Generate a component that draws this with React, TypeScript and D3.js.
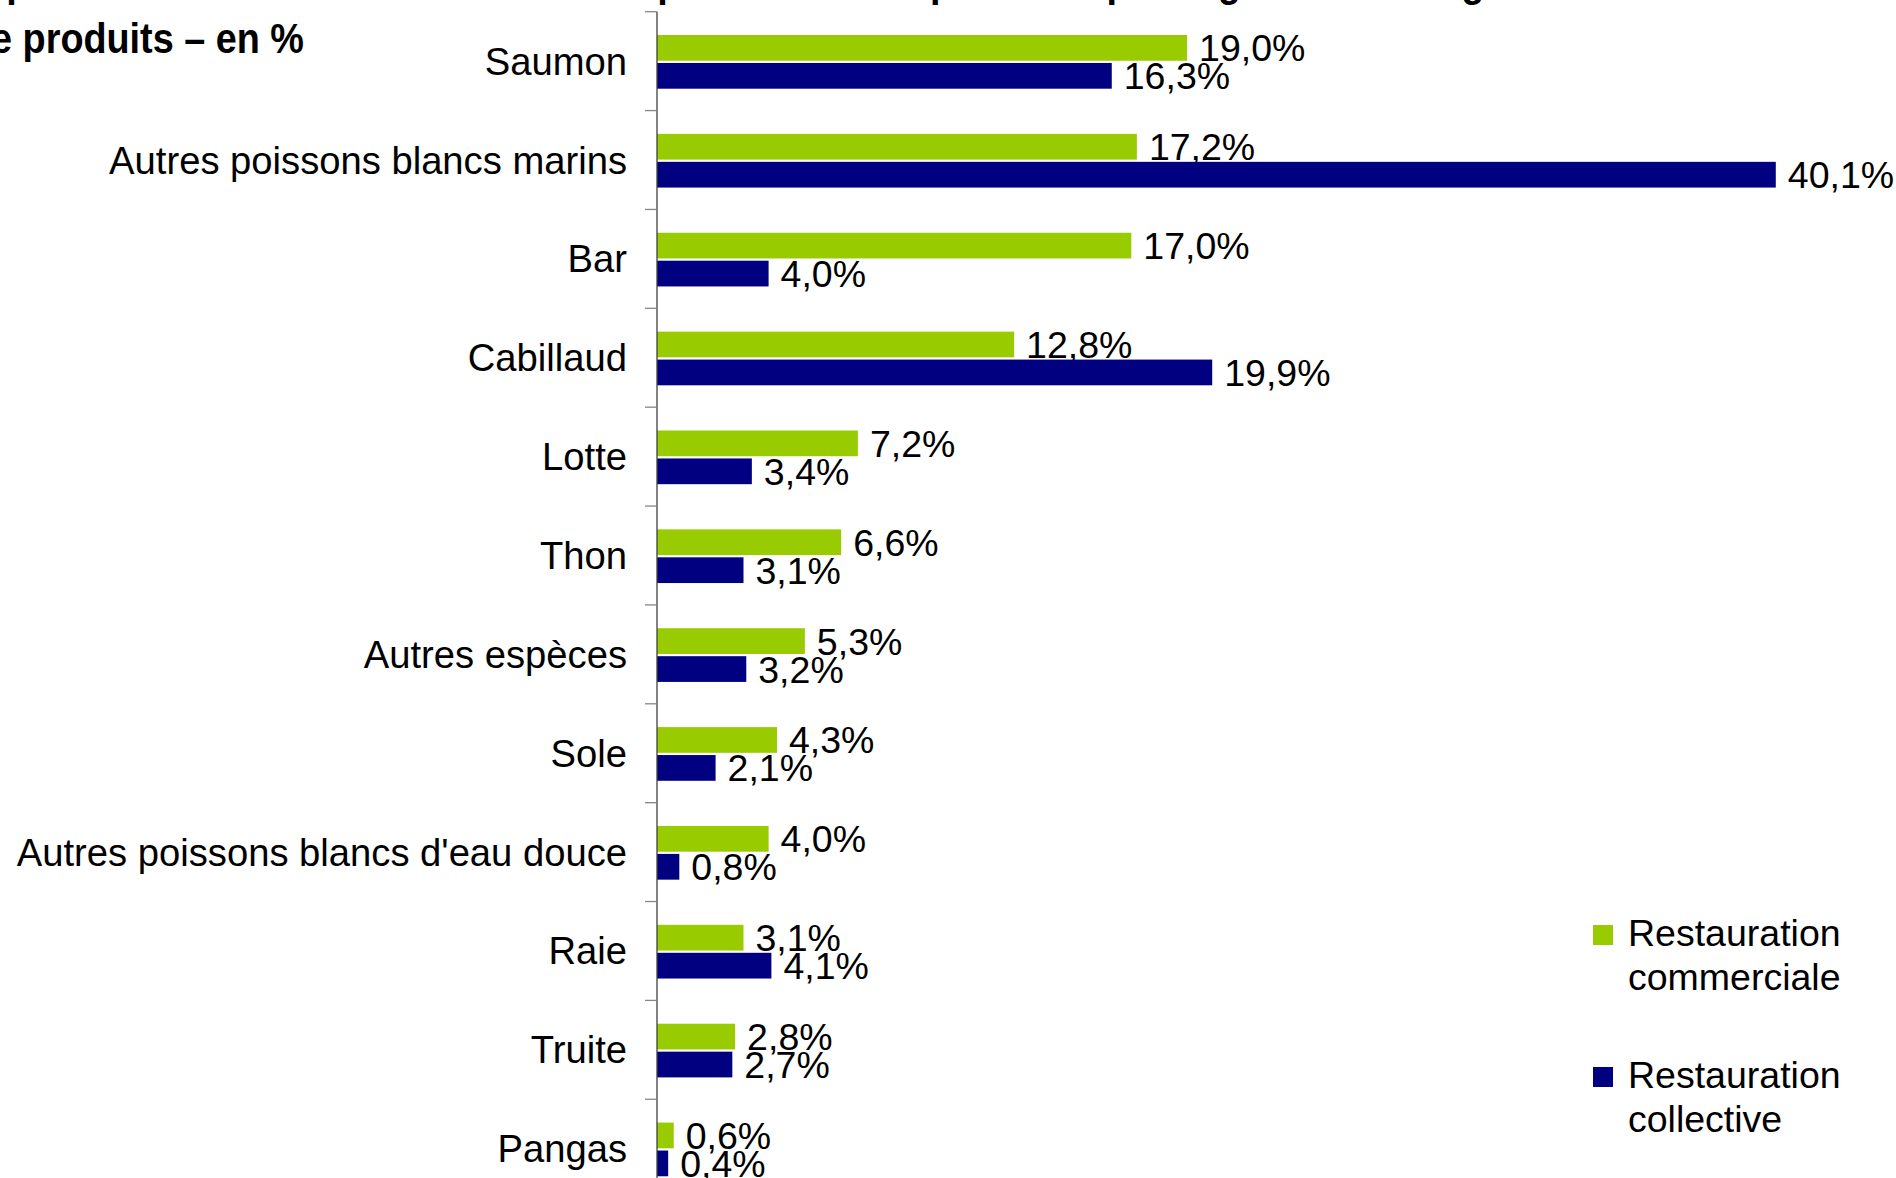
import React from "react";
import * as d3 from "d3";

const categories: string[] = [
  "Saumon",
  "Autres poissons blancs marins",
  "Bar",
  "Cabillaud",
  "Lotte",
  "Thon",
  "Autres espèces",
  "Sole",
  "Autres poissons blancs d'eau douce",
  "Raie",
  "Truite",
  "Pangas",
];
const commerciale: number[] = [19.0, 17.2, 17.0, 12.8, 7.2, 6.6, 5.3, 4.3, 4.0, 3.1, 2.8, 0.6];
const collective: number[] = [16.3, 40.1, 4.0, 19.9, 3.4, 3.1, 3.2, 2.1, 0.8, 4.1, 2.7, 0.4];
const seriesNames: string[] = ["Restauration commerciale", "Restauration collective"];
const seriesColors: string[] = ["#99CC00", "#000080"];
const legendLines: string[][] = [
  ["Restauration", "commerciale"],
  ["Restauration", "collective"],
];
const titleLines: string[] = [
  "Répartition des achats en restauration par nombre de poissons par segment et catégorie",
  "de produits – en %",
];

const W = 1896;
const H = 1178;
const FONT = "'Liberation Sans', Arial, sans-serif";

export default function App() {
  const axisX = 657;
  const y = d3
    .scaleBand<string>()
    .domain(categories)
    .range([11.7, 11.7 + 12 * 98.87])
    .padding(0);
  const inner = d3
    .scaleBand<string>()
    .domain(seriesNames)
    .range([23.3, 77])
    .paddingInner(0.08);
  const x = d3.scaleLinear().domain([0, 40]).range([axisX, axisX + 40 * 27.9]);
  const fmt = (v: number) => v.toFixed(1).replace(".", ",") + "%";
  const data = [commerciale, collective];
  const tickYs = [...categories.map((c) => y(c) as number), (y.range()[1] as number)];

  return (
    <svg
      width={W}
      height={H}
      viewBox={`0 0 ${W} ${H}`}
      style={{ position: "absolute", left: 0, top: 0, overflow: "hidden", background: "#fff" }}
    >
      <rect x={0} y={0} width={W} height={H} fill="#fff" />
      {/* title (cut off) */}
      <g transform="scale(0.9,1)" fontFamily={FONT} fontWeight="bold" fontSize={42} fill="#000">
        <text x={-42 / 0.9} y={-4}>{titleLines[0]}</text>
        <text x={-32 / 0.9} y={53}>{titleLines[1]}</text>
      </g>

      {/* bars */}
      {data.map((vals, si) =>
        categories.map((c, i) => {
          const by = (y(c) as number) + (inner(seriesNames[si]) as number);
          const bh = inner.bandwidth();
          return (
            <g key={`${si}-${i}`}>
              <rect x={x(0)} y={by} width={x(vals[i]) - x(0)} height={bh} fill={seriesColors[si]} />
              <text
                x={x(vals[i]) + 12}
                y={by + bh / 2}
                dy="0.36em"
                fontFamily={FONT}
                fontSize={37.5}
                fill="#000"
              >
                {fmt(vals[i])}
              </text>
            </g>
          );
        })
      )}

      {/* axis */}
      <line x1={axisX} x2={axisX} y1={tickYs[0]} y2={tickYs[tickYs.length - 1]} stroke="#404040" strokeWidth={1.3} />
      {tickYs.map((t, i) => (
        <line key={i} x1={axisX - 12} x2={axisX} y1={t} y2={t} stroke="#868686" strokeWidth={1.3} />
      ))}
      {categories.map((c) => (
        <text
          key={c}
          x={627}
          y={(y(c) as number) + y.bandwidth() / 2 + 13.5}
          textAnchor="end"
          fontFamily={FONT}
          fontSize={38.2}
          fill="#000"
        >
          {c}
        </text>
      ))}

      {/* legend */}
      {seriesNames.map((s, si) => {
        const top = si === 0 ? 925 : 1067;
        return (
          <g key={s}>
            <rect x={1593} y={top} width={20} height={20} fill={seriesColors[si]} />
            {legendLines[si].map((ln, li) => (
              <text key={li} x={1628} y={top + 21 + li * 44} fontFamily={FONT} fontSize={37.5} fill="#000">
                {ln}
              </text>
            ))}
          </g>
        );
      })}
    </svg>
  );
}
